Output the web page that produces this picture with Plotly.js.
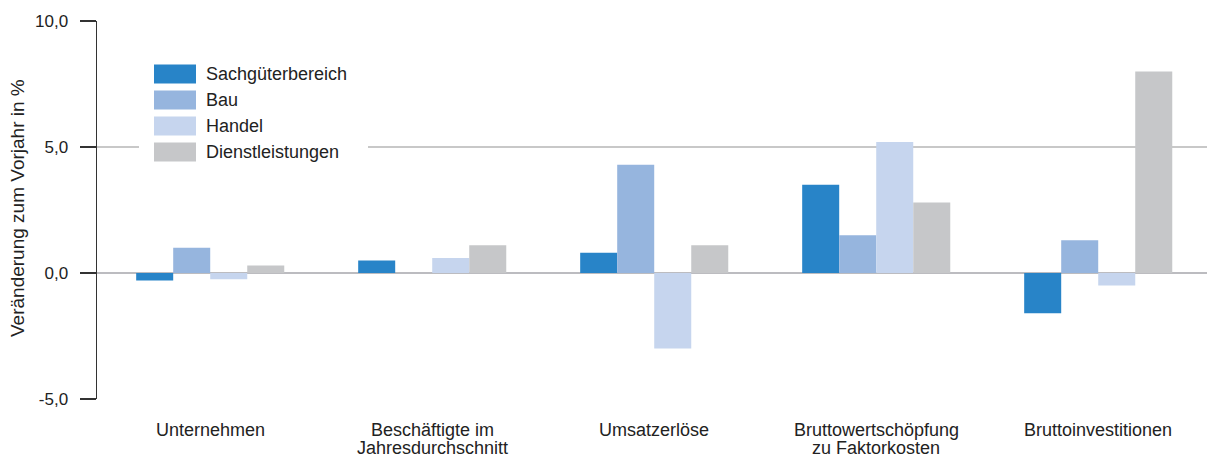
<!DOCTYPE html>
<html>
<head>
<meta charset="utf-8">
<script src="https://cdn.plot.ly/plotly-3.0.1.min.js"></script>
<style>html,body{margin:0;padding:0;background:#fff;}#chart{width:1207px;height:458px;}</style>
</head>
<body>
<div id="chart"></div>
<script>
const categories = ["Unternehmen", "Beschäftigte im<br>Jahresdurchschnitt", "Umsatzerlöse", "Bruttowertschöpfung<br>zu Faktorkosten", "Bruttoinvestitionen"];
const seriesNames = ["Sachgüterbereich", "Bau", "Handel", "Dienstleistungen"];
const sachgueter = [-0.3, 0.5, 0.8, 3.5, -1.6];
const bau = [1.0, 0.0, 4.3, 1.5, 1.3];
const handel = [-0.25, 0.6, -3.0, 5.2, -0.5];
const dienstleistungen = [0.3, 1.1, 1.1, 2.8, 8.0];
const colors = ["#2884c8", "#96b5de", "#c6d5ee", "#c6c7c9"];
const yTickVals = [-5, 0, 5, 10];
const yTickText = ["-5,0", "0,0", "5,0", "10,0"];

const values = [sachgueter, bau, handel, dienstleistungen];
const traces = values.map((v, i) => ({
  type: "bar", x: categories, y: v, name: seriesNames[i],
  marker: {color: colors[i], line: {width: 0}}, hoverinfo: "none"
}));

const W = 1207, H = 458, L = 97, R = 0, T = 21, B = 59;
const pw = W - L - R, ph = H - T - B;
const px = x => (x - L) / pw;
const py = y => (H - B - y) / ph;
const textColor = "#222222";

const shapes = [
  {type: "line", xref: "paper", yref: "y", x0: 0, x1: 1, y0: 5, y1: 5, line: {color: "#c8c8c8", width: 2}, layer: "below"},
  {type: "rect", xref: "paper", yref: "paper", x0: px(139), x1: px(368), y0: py(168), y1: py(58), fillcolor: "#ffffff", line: {width: 0}, layer: "above"}
];
const annotations = [];
const rowY = [74, 100, 126, 152];
seriesNames.forEach((n, i) => {
  shapes.push({type: "rect", xref: "paper", yref: "paper", x0: px(154), x1: px(196), y0: py(rowY[i] + 9.5), y1: py(rowY[i] - 9.5), fillcolor: colors[i], line: {width: 0}, layer: "above"});
  annotations.push({xref: "paper", yref: "paper", x: px(204), y: py(rowY[i]), xanchor: "left", yanchor: "middle", text: n, showarrow: false, font: {size: 18, color: textColor}});
});
annotations.push({xref: "paper", yref: "paper", x: px(18), y: py(208), xanchor: "center", yanchor: "middle", textangle: -90, text: "Veränderung zum Vorjahr in %", showarrow: false, font: {size: 19, color: textColor}});
// category labels, one annotation per line for tight line spacing
const lineY = [430, 448];
categories.forEach(c => {
  c.split("<br>").forEach((line, j) => {
    annotations.push({xref: "x", yref: "paper", x: c, y: py(lineY[j]), xanchor: "center", yanchor: "middle", text: line, showarrow: false, font: {size: 18, color: textColor}});
  });
});

const layout = {
  width: W, height: H,
  margin: {l: L, r: R, t: T, b: B, pad: 0},
  paper_bgcolor: "#ffffff", plot_bgcolor: "#ffffff",
  font: {family: "Liberation Sans, Arial, sans-serif", color: textColor, size: 18},
  barmode: "group", bargap: 0.333, bargroupgap: 0,
  showlegend: false,
  xaxis: {range: [-0.51, 4.49], showgrid: false, zeroline: false, showline: false, ticks: "", showticklabels: false, fixedrange: true},
  yaxis: {range: [-5, 10], tickvals: yTickVals, ticktext: yTickText, showgrid: false,
    zeroline: true, zerolinecolor: "#bcbcc0", zerolinewidth: 2,
    showline: true, linecolor: "#333333", linewidth: 1.5,
    ticks: "outside", ticklen: 16, tickwidth: 1.5, tickcolor: "#333333",
    ticklabelstandoff: 8,
    tickfont: {size: 17, color: textColor}, fixedrange: true},
  shapes: shapes, annotations: annotations
};
Plotly.newPlot("chart", traces, layout, {staticPlot: true, displayModeBar: false});
</script>
</body>
</html>
